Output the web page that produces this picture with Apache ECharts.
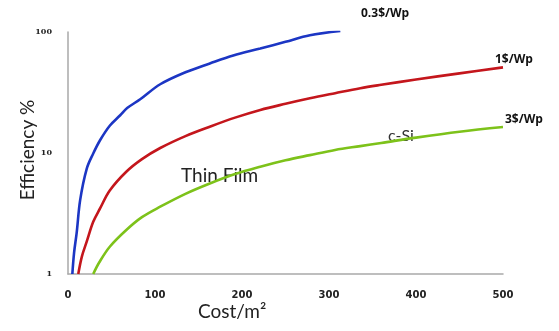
<!DOCTYPE html>
<html><head><meta charset="utf-8">
<script src="https://cdn.jsdelivr.net/npm/echarts@6/dist/echarts.min.js"></script>
<style>html,body{margin:0;padding:0;background:#fff}#c{width:559px;height:331px}</style>
</head><body><div id="c"></div>
<script>
// Cost per m2 (x) vs Efficiency % (y, log scale)
const blueX  = [5, 7, 10, 14, 21.5, 29, 37, 48, 60, 68, 83, 106, 135, 163, 190, 221, 250, 278, 313];
const blueY  = [1, 1.5, 2.2, 4.1, 7.4, 9.9, 12.8, 16.8, 20.5, 23.5, 27.8, 37, 46.5, 55, 64, 73, 83, 94, 102];
const redX   = [11.8, 16, 21.5, 29, 37, 48, 67, 85, 106, 135, 163, 192, 221, 250, 278, 307, 336, 360, 400, 450, 500];
const redY   = [1, 1.4, 1.85, 2.7, 3.5, 4.9, 7, 8.9, 11, 13.8, 16.5, 19.6, 22.7, 25.5, 28.3, 31.2, 34.3, 36.6, 40.5, 45.5, 51];
const greenX = [29, 36, 48, 67, 85, 106, 135, 163, 192, 221, 250, 278, 307, 336, 360, 400, 450, 500];
const greenY = [1, 1.25, 1.68, 2.31, 2.95, 3.6, 4.6, 5.6, 6.7, 7.7, 8.7, 9.6, 10.6, 11.4, 12.1, 13.4, 15, 16.4];
const xTicks = [0, 100, 200, 300, 400, 500];
const yTicks = [1, 10, 100];
const seriesNames = ['0.3$/Wp', '1$/Wp', '3$/Wp'];

const pair = (xs, ys) => xs.map((x, i) => [x, ys[i]]);
const chart = echarts.init(document.getElementById('c'), null, {renderer: 'canvas'});
const lineStyle = (c) => ({color: c, width: 2.6});
chart.setOption({
  animation: false,
  backgroundColor: '#fff',
  grid: {left: 68, right: 56, top: 32, bottom: 57},
  xAxis: {
    type: 'value', min: xTicks[0], max: xTicks[xTicks.length - 1], interval: 100,
    axisLine: {show: true, lineStyle: {color: '#a9a9a9', width: 1.5}},
    axisTick: {show: false}, splitLine: {show: false},
    axisLabel: {margin: 16, fontSize: 10, fontWeight: 'bold', color: '#222', fontFamily: 'DejaVu Sans'}
  },
  yAxis: {
    type: 'log', logBase: 10, min: yTicks[0], max: yTicks[yTicks.length - 1],
    axisLine: {show: true, lineStyle: {color: '#a9a9a9', width: 1.5}},
    axisTick: {show: false}, splitLine: {show: false},
    axisLabel: {margin: 16, fontSize: 8, fontWeight: 'bold', color: '#222', fontFamily: 'DejaVu Serif'}
  },
  series: [
    {name: seriesNames[0], type: 'line', smooth: 0.35, showSymbol: false, data: pair(blueX, blueY), lineStyle: lineStyle('#1c36c4'), itemStyle: {color: '#1c36c4'}},
    {name: seriesNames[1], type: 'line', smooth: 0.35, showSymbol: false, data: pair(redX, redY), lineStyle: lineStyle('#c4161c'), itemStyle: {color: '#c4161c'}},
    {name: seriesNames[2], type: 'line', smooth: 0.35, showSymbol: false, data: pair(greenX, greenY), lineStyle: lineStyle('#7dc21a'), itemStyle: {color: '#7dc21a'}}
  ],
  graphic: [
    {type: 'text', left: 361, top: 8, style: {text: seriesNames[0], font: 'bold 12px "Open Sans"', fill: '#111'}},
    {type: 'text', left: 495, top: 54, style: {text: seriesNames[1], font: 'bold 12px "Open Sans"', fill: '#111'}},
    {type: 'text', left: 505, top: 114, style: {text: seriesNames[2], font: 'bold 12px "Open Sans"', fill: '#111'}},
    {type: 'text', left: 388, top: 128, style: {text: 'c-Si', font: '16px Lato', fill: '#333'}},
    {type: 'text', left: 181, top: 166, style: {text: 'Thin Film', font: '19px Lato', fill: '#222'}},
    {type: 'text', left: 198, top: 302, style: {text: 'Cost/m²', font: '19px Lato', fill: '#222'}},
    {type: 'text', x: 28, y: 150, rotation: Math.PI / 2, style: {text: 'Efficiency %', font: '19px Lato', fill: '#222', align: 'center', verticalAlign: 'middle'}}
  ]
});
</script></body></html>
